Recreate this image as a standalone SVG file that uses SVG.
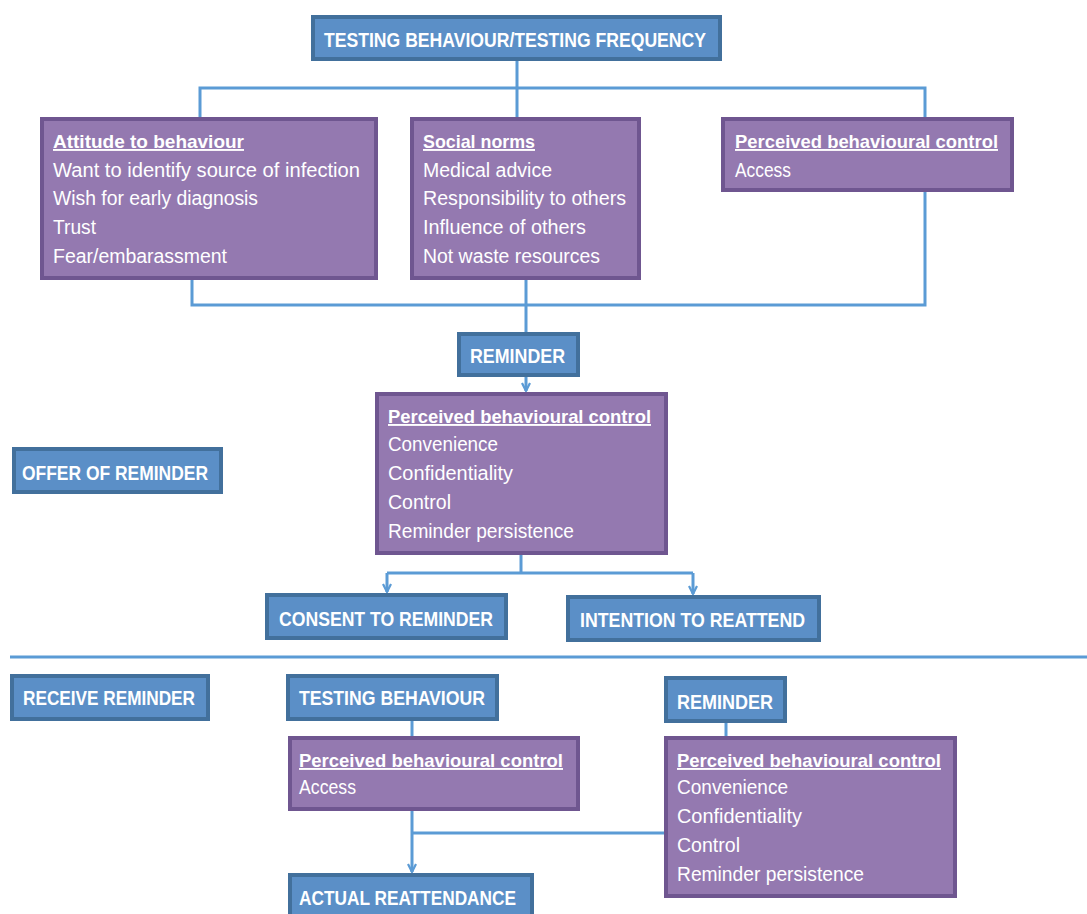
<svg xmlns="http://www.w3.org/2000/svg" width="1087" height="914" viewBox="0 0 1087 914">
<style>
.bb{fill:#5b8fc7;stroke:#42709c;stroke-width:4}
.pb{fill:#9479b0;stroke:#6f5690;stroke-width:4}
.lbl{font-family:"Liberation Sans",Arial,sans-serif;font-size:20px;font-weight:bold;fill:#ffffff}
.hd{font-family:"Liberation Sans",Arial,sans-serif;font-size:19px;font-weight:bold;fill:#ffffff;text-decoration:underline}
.tx{font-family:"Liberation Sans",Arial,sans-serif;font-size:20px;fill:#ffffff}
.cn{fill:none;stroke:#5b9bd5;stroke-width:3}
</style>
<defs>
<marker id="arr" viewBox="0 0 10 10" refX="9" refY="5" markerWidth="10" markerHeight="10" markerUnits="userSpaceOnUse" orient="auto">
<path d="M1,1 L9,5 L1,9" fill="none" stroke="#5b9bd5" stroke-width="2.2"/>
</marker>
</defs>
<rect width="1087" height="914" fill="#ffffff"/>
<g id="connectors">
<path class="cn" d="M517,61 V88 M200,117 V88 H925 V117 M517,88 V117"/>
<path class="cn" d="M192,280 V305 H925 V192"/>
<path class="cn" d="M526,280 V332"/>
<path class="cn" d="M526,377 V391" marker-end="url(#arr)"/>
<path class="cn" d="M521,555 V573"/>
<path class="cn" d="M387,573 H693"/>
<path class="cn" d="M387,573 V592" marker-end="url(#arr)"/>
<path class="cn" d="M693,573 V594" marker-end="url(#arr)"/>
<path class="cn" d="M10,657 H1087"/>
<path class="cn" d="M412,721 V736"/>
<path class="cn" d="M726,723 V736"/>
<path class="cn" d="M412,811 V872" marker-end="url(#arr)"/>
<path class="cn" d="M412,833 H664"/>
</g>
<g id="top">
<rect class="bb" x="313" y="17" width="407" height="42"/>
<text class="lbl" x="324" y="47" textLength="382" lengthAdjust="spacingAndGlyphs">TESTING BEHAVIOUR/TESTING FREQUENCY</text>
</g>
<g id="attitude">
<rect class="pb" x="42" y="119" width="334" height="159"/>
<text class="hd" x="53" y="148" textLength="191" lengthAdjust="spacingAndGlyphs">Attitude to behaviour</text>
<text class="tx" x="53" y="177" textLength="307" lengthAdjust="spacingAndGlyphs">Want to identify source of infection</text>
<text class="tx" x="53" y="205" textLength="205" lengthAdjust="spacingAndGlyphs">Wish for early diagnosis</text>
<text class="tx" x="53" y="234" textLength="43" lengthAdjust="spacingAndGlyphs">Trust</text>
<text class="tx" x="53" y="263" textLength="174" lengthAdjust="spacingAndGlyphs">Fear/embarassment</text>
</g>
<g id="social">
<rect class="pb" x="412" y="119" width="227" height="159"/>
<text class="hd" x="423" y="148" textLength="112" lengthAdjust="spacingAndGlyphs">Social norms</text>
<text class="tx" x="423" y="177" textLength="129" lengthAdjust="spacingAndGlyphs">Medical advice</text>
<text class="tx" x="423" y="205" textLength="203" lengthAdjust="spacingAndGlyphs">Responsibility to others</text>
<text class="tx" x="423" y="234" textLength="163" lengthAdjust="spacingAndGlyphs">Influence of others</text>
<text class="tx" x="423" y="263" textLength="177" lengthAdjust="spacingAndGlyphs">Not waste resources</text>
</g>
<g id="pbc1">
<rect class="pb" x="723" y="119" width="289" height="71"/>
<text class="hd" x="735" y="148" textLength="263" lengthAdjust="spacingAndGlyphs">Perceived behavioural control</text>
<text class="tx" x="735" y="177" textLength="56" lengthAdjust="spacingAndGlyphs">Access</text>
</g>
<g id="reminder1">
<rect class="bb" x="459" y="334" width="119" height="41"/>
<text class="lbl" x="470" y="363" textLength="95" lengthAdjust="spacingAndGlyphs">REMINDER</text>
</g>
<g id="pbc2">
<rect class="pb" x="377" y="394" width="289" height="159"/>
<text class="hd" x="388" y="423" textLength="263" lengthAdjust="spacingAndGlyphs">Perceived behavioural control</text>
<text class="tx" x="388" y="451" textLength="110" lengthAdjust="spacingAndGlyphs">Convenience</text>
<text class="tx" x="388" y="480" textLength="125" lengthAdjust="spacingAndGlyphs">Confidentiality</text>
<text class="tx" x="388" y="509" textLength="63" lengthAdjust="spacingAndGlyphs">Control</text>
<text class="tx" x="388" y="538" textLength="186" lengthAdjust="spacingAndGlyphs">Reminder persistence</text>
</g>
<g id="offer">
<rect class="bb" x="14" y="449" width="207" height="43"/>
<text class="lbl" x="22" y="480" textLength="186" lengthAdjust="spacingAndGlyphs">OFFER OF REMINDER</text>
</g>
<g id="consent">
<rect class="bb" x="267" y="595" width="239" height="43"/>
<text class="lbl" x="279" y="626" textLength="214" lengthAdjust="spacingAndGlyphs">CONSENT TO REMINDER</text>
</g>
<g id="intention">
<rect class="bb" x="568" y="597" width="251" height="43"/>
<text class="lbl" x="580" y="627" textLength="225" lengthAdjust="spacingAndGlyphs">INTENTION TO REATTEND</text>
</g>
<g id="receive">
<rect class="bb" x="12" y="676" width="196" height="43"/>
<text class="lbl" x="23" y="705" textLength="172" lengthAdjust="spacingAndGlyphs">RECEIVE REMINDER</text>
</g>
<g id="testing">
<rect class="bb" x="288" y="676" width="209" height="43"/>
<text class="lbl" x="299" y="705" textLength="186" lengthAdjust="spacingAndGlyphs">TESTING BEHAVIOUR</text>
</g>
<g id="reminder2">
<rect class="bb" x="666" y="678" width="119" height="43"/>
<text class="lbl" x="677" y="709" textLength="96" lengthAdjust="spacingAndGlyphs">REMINDER</text>
</g>
<g id="pbc3">
<rect class="pb" x="290" y="738" width="288" height="71"/>
<text class="hd" x="299" y="767" textLength="264" lengthAdjust="spacingAndGlyphs">Perceived behavioural control</text>
<text class="tx" x="299" y="794" textLength="57" lengthAdjust="spacingAndGlyphs">Access</text>
</g>
<g id="pbc4">
<rect class="pb" x="666" y="738" width="289" height="158"/>
<text class="hd" x="677" y="767" textLength="264" lengthAdjust="spacingAndGlyphs">Perceived behavioural control</text>
<text class="tx" x="677" y="794" textLength="111" lengthAdjust="spacingAndGlyphs">Convenience</text>
<text class="tx" x="677" y="823" textLength="125" lengthAdjust="spacingAndGlyphs">Confidentiality</text>
<text class="tx" x="677" y="852" textLength="63" lengthAdjust="spacingAndGlyphs">Control</text>
<text class="tx" x="677" y="881" textLength="187" lengthAdjust="spacingAndGlyphs">Reminder persistence</text>
</g>
<g id="actual">
<rect class="bb" x="290" y="875" width="242" height="45"/>
<text class="lbl" x="299" y="905" textLength="217" lengthAdjust="spacingAndGlyphs">ACTUAL REATTENDANCE</text>
</g>
</svg>
